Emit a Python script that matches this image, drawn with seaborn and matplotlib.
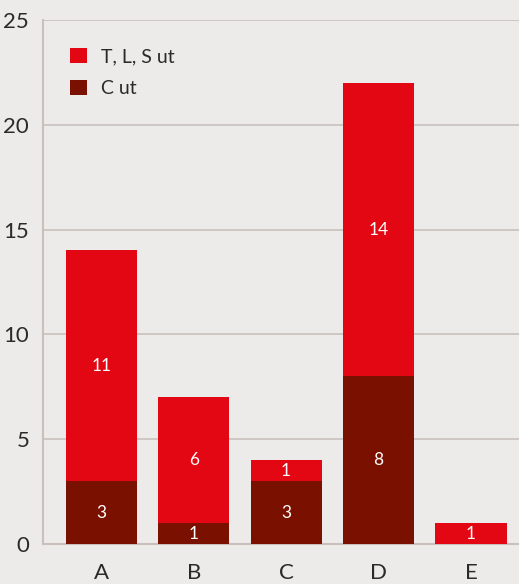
import matplotlib
matplotlib.use("Agg")
import matplotlib.pyplot as plt
import seaborn as sns
import pandas as pd
from matplotlib.patches import Patch

categories = ["A", "B", "C", "D", "E"]
c_ut = [3, 1, 3, 8, 0]
tls_ut = [11, 6, 1, 14, 1]
y_ticks = [0, 5, 10, 15, 20, 25]
series_names = ["T, L, S ut", "C ut"]

RED = "#e30613"
DARK = "#7a1000"
BG = "#ecebe9"
GRID = "#c9c0bc"
TEXT = "#2a2a2a"

sns.set_theme(style="white")
plt.rcParams["font.family"] = ["Lato", "DejaVu Sans"]

df = pd.DataFrame({"cat": categories, "c": c_ut, "tls": tls_ut})
df["total"] = df["c"] + df["tls"]

fig = plt.figure(figsize=(5.19, 5.84), dpi=100, facecolor=BG)
ax = fig.add_axes([0.083, 0.0685, 0.917, 0.8975])
ax.set_facecolor(BG)

# stacked bars: total in red, C ut drawn over it from the baseline
sns.barplot(data=df, x="cat", y="total", color=RED, width=0.77,
            saturation=1, linewidth=0, ax=ax, zorder=3)
sns.barplot(data=df, x="cat", y="c", color=DARK, width=0.77,
            saturation=1, linewidth=0, ax=ax, zorder=4)

# segment value labels
for i, (c, t) in enumerate(zip(c_ut, tls_ut)):
    if c > 0:
        ax.text(i, c / 2, str(c), ha="center", va="center", color="white",
                fontsize=12.5, zorder=5)
    if t > 0:
        ax.text(i, c + t / 2, str(t), ha="center", va="center", color="white",
                fontsize=12.5, zorder=5)

ax.set_xlim(-0.63, 4.52)
ax.set_ylim(0, 25)
ax.set_yticks(y_ticks)
ax.yaxis.grid(True, color=GRID, linewidth=1.2, zorder=0)
ax.xaxis.grid(False)
ax.set_axisbelow(True)
ax.set_xlabel("")
ax.set_ylabel("")
for s in ["top", "right"]:
    ax.spines[s].set_visible(False)
for s in ["left", "bottom"]:
    ax.spines[s].set_color(GRID)
    ax.spines[s].set_linewidth(1.5)
ax.tick_params(axis="y", length=0, pad=10, labelsize=16, labelcolor=TEXT)
ax.tick_params(axis="x", length=0, pad=14, labelsize=16, labelcolor=TEXT)

handles = [Patch(facecolor=RED, edgecolor="none"),
           Patch(facecolor=DARK, edgecolor="none")]
leg = ax.legend(handles, series_names, loc="upper left",
                bbox_to_anchor=(0.02, 0.98), frameon=False,
                fontsize=14, handlelength=0.85, handleheight=0.85,
                handletextpad=0.75, labelspacing=0.75, labelcolor=TEXT)

fig.savefig("out.png", dpi=100, facecolor=BG)
